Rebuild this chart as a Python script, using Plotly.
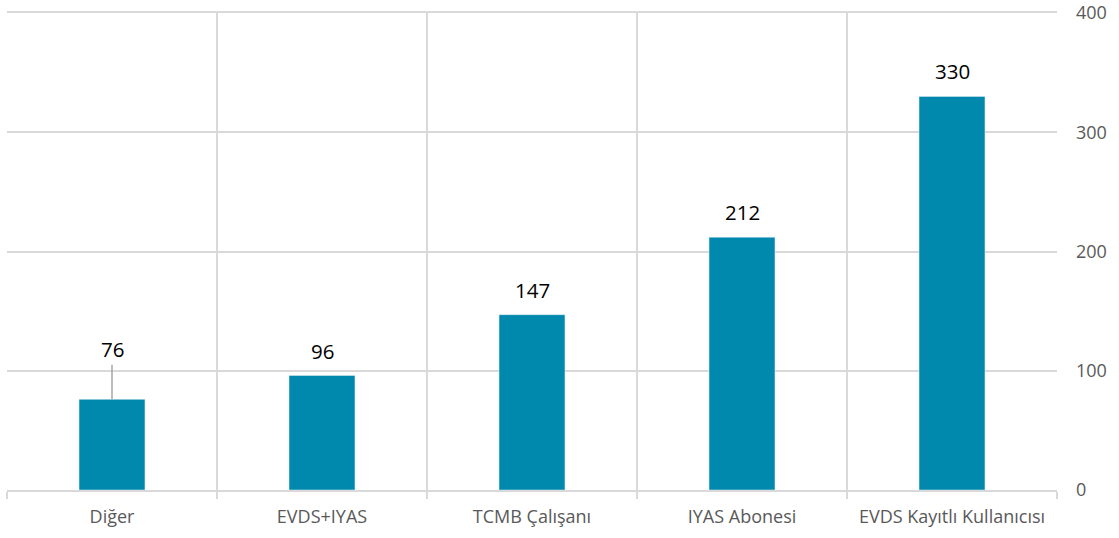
import plotly.graph_objects as go

categories = ["Diğer", "EVDS+IYAS", "TCMB Çalışanı", "IYAS Abonesi", "EVDS Kayıtlı Kullanıcısı"]
values = [76, 96, 147, 212, 330]
y_ticks = [0, 100, 200, 300, 400]

label_shift_px = [50, 25, 25, 25, 25]
leader_line = [True, False, False, False, False]

BAR = "#0089AD"
GRID = "#D9D9D9"
FONT = "Open Sans"

fig = go.Figure()
fig.add_trace(go.Bar(x=categories, y=values, marker_color=BAR, width=0.314,
                     hoverinfo="x+y"))

for c, v, s, lead in zip(categories, values, label_shift_px, leader_line):
    if lead:
        fig.add_annotation(x=c, y=v, text=str(v), showarrow=True, ax=0, ay=-s,
                           arrowhead=0, arrowwidth=1.5, arrowcolor="#A6A6A6",
                           standoff=0, startstandoff=0,
                           font=dict(family=FONT, size=20.5, color="#000000"))
    else:
        fig.add_annotation(x=c, y=v, text=str(v), showarrow=False, yshift=s,
                           font=dict(family=FONT, size=20.5, color="#000000"))

fig.update_layout(
    width=1119, height=538,
    margin=dict(l=7, r=62, t=13, b=48, autoexpand=False),
    paper_bgcolor="white", plot_bgcolor="white",
    showlegend=False,
    font=dict(family=FONT, color="#595959"),
    xaxis=dict(
        type="category", range=[-0.5, 4.5], automargin=False,
        tickson="boundaries", showgrid=True, gridcolor=GRID, gridwidth=2,
        ticks="outside", ticklen=7, tickcolor=GRID, tickwidth=2,
        showline=True, linecolor=GRID, linewidth=2, mirror=True,
        tickfont=dict(size=18, color="#595959"),
        ticklabelstandoff=9,
        fixedrange=True,
    ),
    yaxis=dict(
        side="right", range=[0, 400], tickvals=y_ticks, automargin=False,
        showgrid=True, gridcolor=GRID, gridwidth=2,
        zeroline=False, ticks="", showline=False,
        tickfont=dict(size=18, color="#595959"),
        ticklabelstandoff=18,
        fixedrange=True,
    ),
)

fig.write_html("out.html", config={"displayModeBar": False},
               post_script="document.body.style.margin='0px';document.body.style.padding='0px';")
